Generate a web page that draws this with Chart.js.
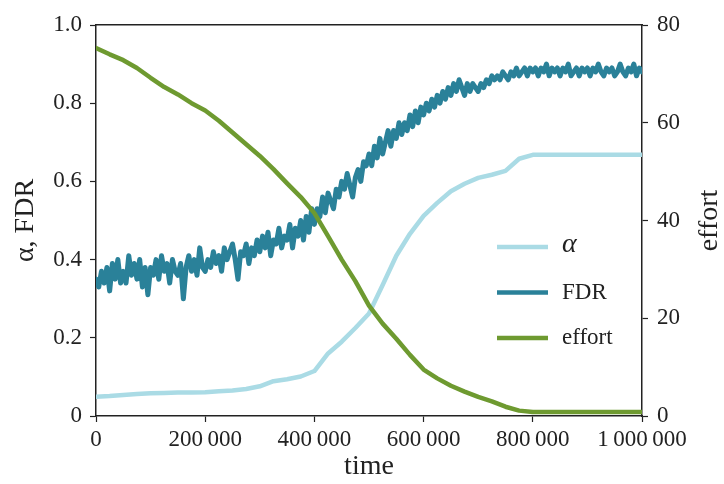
<!DOCTYPE html>
<html>
<head>
<meta charset="utf-8">
<script src="https://cdn.jsdelivr.net/npm/chart.js@4.4.1/dist/chart.umd.min.js"></script>
<style>
  html, body { margin: 0; padding: 0; background: #fff; }
  #wrap { width: 724px; height: 484px; }
</style>
</head>
<body>
<div id="wrap"><canvas id="chart" width="724" height="484"></canvas></div>
<script>
'use strict';

// sampling of the runs (time between two samples)
const fdrStep = 5000;
const slowStep = 25000;

// FDR, one value every 5 000 steps (0 .. 1 000 000)
const fdrValues = [
  0.35, 0.33, 0.37, 0.34, 0.38, 0.32, 0.39, 0.35, 0.40, 0.34,
  0.37, 0.34, 0.41, 0.36, 0.39, 0.35, 0.40, 0.33, 0.38, 0.31,
  0.38, 0.36, 0.40, 0.35, 0.41, 0.37, 0.39, 0.34, 0.40, 0.37,
  0.36, 0.39, 0.30, 0.38, 0.41, 0.37, 0.40, 0.36, 0.43, 0.38,
  0.37, 0.40, 0.38, 0.42, 0.39, 0.41, 0.37, 0.43, 0.40, 0.42,
  0.44, 0.40, 0.35, 0.42, 0.41, 0.44, 0.39, 0.43, 0.41, 0.45,
  0.42, 0.46, 0.43, 0.47, 0.41, 0.45, 0.44, 0.48, 0.43, 0.46,
  0.45, 0.49, 0.43, 0.48, 0.46, 0.50, 0.45, 0.51, 0.47, 0.53,
  0.49, 0.53, 0.51, 0.56, 0.52, 0.57, 0.55, 0.53, 0.58, 0.56,
  0.60, 0.58, 0.62, 0.59, 0.56, 0.61, 0.63, 0.60, 0.65, 0.64,
  0.67, 0.64, 0.69, 0.66, 0.71, 0.67, 0.70, 0.73, 0.69, 0.73,
  0.71, 0.75, 0.72, 0.75, 0.73, 0.77, 0.74, 0.78, 0.75, 0.79,
  0.77, 0.80, 0.78, 0.81, 0.79, 0.82, 0.80, 0.83, 0.81, 0.84,
  0.82, 0.85, 0.83, 0.86, 0.84, 0.82, 0.85, 0.83, 0.85, 0.84,
  0.83, 0.85, 0.84, 0.86, 0.85, 0.87, 0.86, 0.87, 0.86, 0.88,
  0.87, 0.86, 0.88, 0.87, 0.89, 0.87, 0.88, 0.89, 0.87, 0.89,
  0.88, 0.89, 0.87, 0.89, 0.88, 0.90, 0.87, 0.89, 0.88, 0.89,
  0.87, 0.89, 0.88, 0.90, 0.87, 0.88, 0.89, 0.87, 0.89, 0.88,
  0.89, 0.87, 0.89, 0.88, 0.90, 0.88, 0.87, 0.89, 0.88, 0.89,
  0.87, 0.88, 0.90, 0.88, 0.87, 0.89, 0.88, 0.90, 0.87, 0.89,
  0.88
];

// alpha and effort, one value every 25 000 steps
const alphaValues = [
  0.049, 0.051, 0.054, 0.056, 0.058, 0.059, 0.060, 0.060, 0.061, 0.063,
  0.065, 0.069, 0.076, 0.089, 0.094, 0.101, 0.115, 0.160, 0.190, 0.225,
  0.262, 0.335, 0.410, 0.466, 0.512, 0.545, 0.575, 0.594, 0.609, 0.617,
  0.627, 0.658, 0.668, 0.668, 0.668, 0.668, 0.668, 0.668, 0.668, 0.668,
  0.668
];
const effortValues = [
  75.3, 74.0, 72.8, 71.2, 69.2, 67.3, 65.8, 64.0, 62.5, 60.4,
  58.0, 55.6, 53.2, 50.5, 47.6, 44.8, 41.5, 36.8, 32.0, 27.6,
  22.6, 18.9, 15.8, 12.5, 9.5, 7.7, 6.2, 5.0, 3.9, 3.0,
  1.9, 1.1, 0.8, 0.8, 0.8, 0.8, 0.8, 0.8, 0.8, 0.8,
  0.8
];

// axes
const timeTicks = [0, 200000, 400000, 600000, 800000, 1000000];
const rateTicks = [0, 0.2, 0.4, 0.6, 0.8, 1.0];
const effortTicks = [0, 20, 40, 60, 80];

const seriesNames = ['\u03b1', 'FDR', 'effort'];
const seriesColors = ['#aadbe5', '#2a8199', '#6e9a30'];

const serif = "'Liberation Serif', 'Times New Roman', serif";
const inkColor = '#222';

function toPoints (values, step) {
  let pts = [];
  for (let i = 0; i < values.length; i++) {
    pts.push({ x: i * step, y: values[i] });
  }
  return pts;
}

function thinSpaced (v) {
  return String(v).replace(/\B(?=(\d{3})+(?!\d))/g, '\u2009');
}

function fixTicks (list) {
  return function (scale) {
    scale.ticks = list.map(function (v) { return { value: v }; });
  };
}

// legend drawn inside the plot, and the right-hand axis title (reads bottom to top)
const extrasPlugin = {
  id: 'extras',
  afterDatasetsDraw (chart) {
    const ctx = chart.ctx;
    const area = chart.chartArea;
    ctx.save();
    ctx.textBaseline = 'middle';
    ctx.textAlign = 'left';
    chart.data.datasets.forEach(function (ds, i) {
      const y = area.top + 222 + i * 45.5;
      const x0 = area.right - 145;
      ctx.strokeStyle = ds.borderColor;
      ctx.lineWidth = 4.5;
      ctx.beginPath();
      ctx.moveTo(x0, y);
      ctx.lineTo(x0 + 51, y);
      ctx.stroke();
      ctx.fillStyle = inkColor;
      ctx.font = i === 0 ? 'italic 28px ' + serif : '23px ' + serif;
      ctx.fillText(ds.label, x0 + 65, i === 0 ? y - 2 : y);
    });

    ctx.translate(710, (area.top + area.bottom) / 2);
    ctx.rotate(-Math.PI / 2);
    ctx.textAlign = 'center';
    ctx.font = '28px ' + serif;
    ctx.fillText('effort', 0, 0);
    ctx.restore();
  }
};

const axisLine = { display: true, color: inkColor, width: 1.5 };
const outerTicks = { display: true, drawOnChartArea: false, drawTicks: true, tickLength: 6, tickWidth: 1.2, tickColor: inkColor };

let myChart = new Chart(document.getElementById('chart'), {
  type: 'line',
  data: {
    datasets: [
      { label: seriesNames[0], data: toPoints(alphaValues, slowStep), borderColor: seriesColors[0], yAxisID: 'y', order: 3 },
      { label: seriesNames[1], data: toPoints(fdrValues, fdrStep), borderColor: seriesColors[1], yAxisID: 'y', order: 2, borderWidth: 5 },
      { label: seriesNames[2], data: toPoints(effortValues, slowStep), borderColor: seriesColors[2], yAxisID: 'y1', order: 1 }
    ]
  },
  options: {
    responsive: false,
    animation: false,
    layout: { padding: { top: 25, left: 0, right: 0, bottom: 0 } },
    elements: {
      point: { radius: 0 },
      line: { borderWidth: 4.5, tension: 0, borderJoinStyle: 'round', borderCapStyle: 'round' }
    },
    plugins: { legend: { display: false }, tooltip: { enabled: false } },
    scales: {
      x: {
        type: 'linear', position: 'bottom', min: 0, max: 1000000,
        border: axisLine, grid: outerTicks,
        afterBuildTicks: fixTicks(timeTicks),
        afterFit: function (s) { s.height = 68; },
        ticks: { color: inkColor, padding: 4, maxRotation: 0, autoSkip: false,
                 font: { family: serif, size: 23 }, callback: thinSpaced },
        title: { display: true, text: 'time', color: inkColor, padding: { top: 0, bottom: 3 },
                 font: { family: serif, size: 28, lineHeight: 1 } }
      },
      x2: {
        type: 'linear', position: 'top', min: 0, max: 1000000,
        border: axisLine, grid: { display: false },
        ticks: { display: false },
        afterFit: function (s) { s.height = 0; }
      },
      y: {
        type: 'linear', position: 'left', min: 0, max: 1,
        border: axisLine, grid: outerTicks,
        afterBuildTicks: fixTicks(rateTicks),
        afterFit: function (s) { s.width = 96; },
        ticks: { color: inkColor, padding: 8, font: { family: serif, size: 23 },
                 callback: function (v) { return v === 0 ? '0' : v.toFixed(1); } },
        title: { display: true, text: '\u03b1, FDR', color: inkColor, padding: { top: 12, bottom: 0 },
                 font: { family: serif, size: 28, lineHeight: 1 } }
      },
      y1: {
        type: 'linear', position: 'right', min: 0, max: 80,
        border: axisLine, grid: outerTicks,
        afterBuildTicks: fixTicks(effortTicks),
        afterFit: function (s) { s.width = 82; },
        ticks: { color: inkColor, padding: 9, font: { family: serif, size: 23 } }
      }
    }
  },
  plugins: [extrasPlugin]
});
</script>
</body>
</html>
